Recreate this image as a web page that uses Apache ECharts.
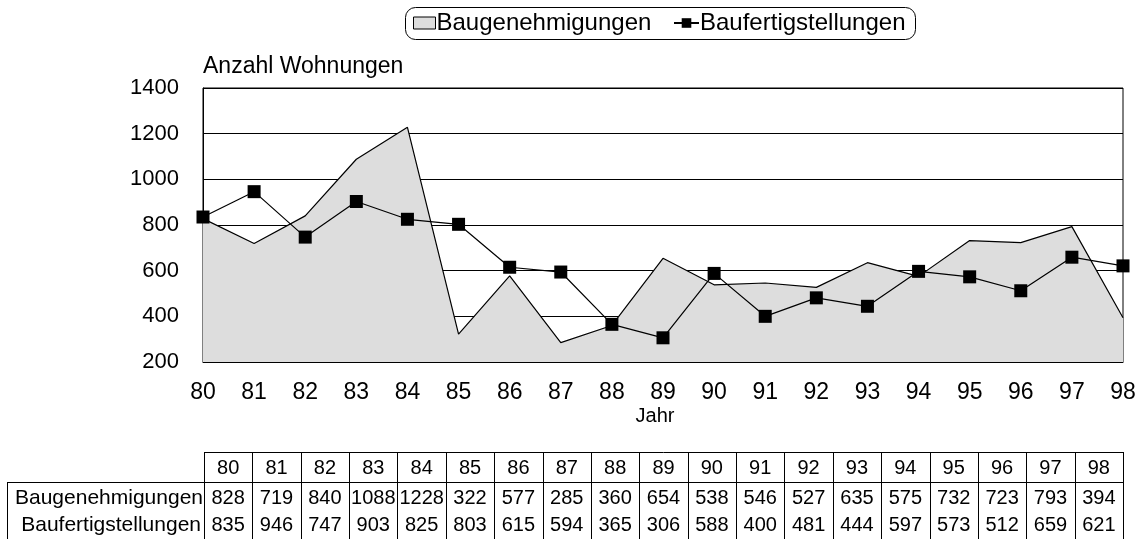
<!DOCTYPE html>
<html>
<head>
<meta charset="utf-8">
<script src="https://cdn.jsdelivr.net/npm/echarts@6/dist/echarts.min.js"></script>
<style>
  html, body { margin: 0; padding: 0; background: #fff; }
  #main { width: 1144px; height: 539px; }
</style>
</head>
<body>
<div id="main"></div>
<script>
// Jahre (Kategorien)
var years = ['80','81','82','83','84','85','86','87','88','89','90','91','92','93','94','95','96','97','98'];
// Baugenehmigungen
var genehmigungen = [828, 719, 840, 1088, 1228, 322, 577, 285, 360, 654, 538, 546, 527, 635, 575, 732, 723, 793, 394];
// Baufertigstellungen
var fertigstellungen = [835, 946, 747, 903, 825, 803, 615, 594, 365, 306, 588, 400, 481, 444, 597, 573, 512, 659, 621];
var yTicks = [200, 400, 600, 800, 1000, 1200, 1400];

var font = '"Liberation Sans", Arial, sans-serif';

// Datentabelle unter dem Diagramm
function buildTable() {
    var left = 204, right = 1123, labelLeft = 7;
    var top = 452, rowTop = 482, bottom = 540;
    var colW = (right - left) / years.length;
    var els = [];
    var ls = {stroke: '#000', lineWidth: 1};
    els.push({type: 'line', shape: {x1: left, y1: top + 0.5, x2: right, y2: top + 0.5}, style: ls});
    els.push({type: 'line', shape: {x1: labelLeft, y1: rowTop + 0.5, x2: right, y2: rowTop + 0.5}, style: ls});
    els.push({type: 'line', shape: {x1: labelLeft + 0.5, y1: rowTop, x2: labelLeft + 0.5, y2: bottom}, style: ls});
    for (var i = 0; i <= years.length; i++) {
        var x = Math.round(left + i * colW) + 0.5;
        els.push({type: 'line', shape: {x1: x, y1: top, x2: x, y2: bottom}, style: ls});
    }
    var rows = [
        {y: 468, vals: years},
        {y: 498, vals: genehmigungen},
        {y: 525, vals: fertigstellungen}
    ];
    rows.forEach(function (r) {
        r.vals.forEach(function (v, i) {
            els.push({
                type: 'text', x: left + (i + 0.5) * colW, y: r.y,
                style: {text: String(v), font: '20px ' + font, fill: '#000', align: 'center', verticalAlign: 'middle'}
            });
        });
    });
    els.push({type: 'text', x: 203, y: 498,
        style: {text: 'Baugenehmigungen', font: '21px ' + font, fill: '#000', align: 'right', verticalAlign: 'middle'}});
    els.push({type: 'text', x: 201, y: 525,
        style: {text: 'Baufertigstellungen', font: '21px ' + font, fill: '#000', align: 'right', verticalAlign: 'middle'}});
    // Rahmen um die Legende
    els.push({type: 'rect', shape: {x: 405.5, y: 7.5, width: 510, height: 32, r: 10},
        style: {fill: 'none', stroke: '#000', lineWidth: 1}});
    return els;
}

var chart = echarts.init(document.getElementById('main'));
var legendText = {fontSize: 24, color: '#000', fontFamily: font, padding: [0, 0, 0, -4]};
var option = {
    animation: false,
    backgroundColor: '#fff',
    textStyle: {fontFamily: font},
    legend: [
        {
            top: 11,
            left: 413,
            padding: 0,
            itemWidth: 22,
            itemHeight: 12,
            textStyle: legendText,
            data: [
                {name: 'Baugenehmigungen', icon: 'rect', itemStyle: {color: '#dddddd', borderColor: '#000', borderWidth: 1}}
            ]
        },
        {
            top: 11,
            left: 673,
            padding: 0,
            itemWidth: 25,
            itemHeight: 12,
            textStyle: legendText,
            data: [{name: 'Baufertigstellungen'}]
        }
    ],
    grid: {
        left: 203,
        right: 21,
        top: 88,
        bottom: 177,
        show: true,
        borderColor: '#000',
        borderWidth: 1
    },
    xAxis: {
        type: 'category',
        data: years,
        boundaryGap: false,
        name: 'Jahr',
        nameLocation: 'middle',
        nameGap: 44,
        nameMoveOverlap: false,
        nameTextStyle: {fontSize: 20, color: '#000', fontFamily: font, verticalAlign: 'top', padding: [0, 16, 0, 0]},
        axisLine: {lineStyle: {color: '#000', width: 1}},
        axisTick: {show: false},
        axisLabel: {fontSize: 23, color: '#000', margin: 19, fontFamily: font},
        splitLine: {show: false}
    },
    yAxis: {
        type: 'value',
        min: yTicks[0],
        max: yTicks[yTicks.length - 1],
        interval: 200,
        name: 'Anzahl Wohnungen',
        nameLocation: 'end',
        nameGap: 10,
        nameTextStyle: {fontSize: 23, color: '#000', align: 'left', fontFamily: font},
        axisLine: {show: true, lineStyle: {color: '#000', width: 1}},
        axisTick: {show: false},
        axisLabel: {
            fontSize: 22, color: '#000', margin: 24, fontFamily: font,
            formatter: function (v) { return String(v); }
        },
        splitLine: {show: true, lineStyle: {color: '#000', width: 1}}
    },
    series: [
        {
            name: 'Baugenehmigungen',
            type: 'line',
            data: genehmigungen,
            symbol: 'none',
            lineStyle: {color: '#000', width: 1.2},
            itemStyle: {color: '#dddddd', borderColor: '#000'},
            areaStyle: {color: '#dddddd', opacity: 1, origin: 'start'}
        },
        {
            name: 'Baufertigstellungen',
            type: 'line',
            data: fertigstellungen,
            symbol: 'rect',
            symbolSize: 13,
            lineStyle: {color: '#000', width: 1.2},
            itemStyle: {color: '#000'}
        }
    ],
    graphic: buildTable()
};
chart.setOption(option);
window.addEventListener('resize', function () {
    chart.resize();
});
</script>
</body>
</html>
